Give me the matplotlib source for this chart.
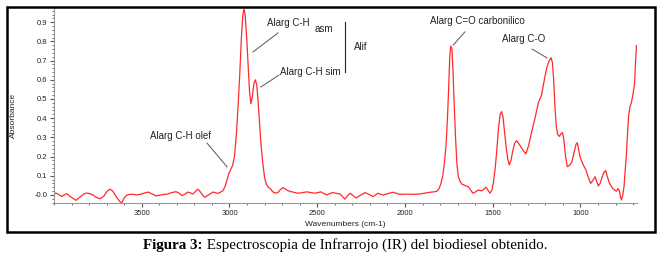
import matplotlib
matplotlib.use("Agg")
import matplotlib.pyplot as plt
from matplotlib.patches import Rectangle
from matplotlib.ticker import MultipleLocator, FixedLocator

# ---- data ----
wavenumber = [4000, 3989, 3970, 3954, 3940, 3926, 3905, 3875, 3850, 3830, 3812, 3795, 3778, 3760, 3738,
              3715, 3695, 3681, 3665, 3645, 3625, 3613, 3600, 3584, 3560, 3527, 3505, 3485, 3464, 3440,
              3419, 3395, 3370, 3356, 3330, 3305, 3285, 3271, 3255, 3236, 3208, 3190, 3180, 3165, 3150,
              3140, 3120, 3094, 3080, 3066, 3050, 3037, 3025, 3012, 3002, 2992, 2982, 2972, 2962, 2952,
              2942, 2932, 2924, 2917, 2910, 2902, 2894, 2886, 2878, 2870, 2862, 2853, 2845, 2838, 2830,
              2822, 2812, 2800, 2790, 2778, 2765, 2752, 2738, 2724, 2710, 2695, 2680, 2667, 2640, 2610,
              2585, 2558, 2535, 2513, 2495, 2479, 2460, 2445, 2428, 2410, 2390, 2370, 2355, 2342, 2328,
              2313, 2296, 2279, 2255, 2228, 2205, 2182, 2168, 2154, 2140, 2125, 2100, 2068, 2048, 2028,
              2000, 1971, 1945, 1915, 1885, 1858, 1835, 1818, 1805, 1795, 1785, 1775, 1766, 1758, 1751,
              1745, 1740, 1733, 1727, 1720, 1712, 1704, 1696, 1686, 1677, 1660, 1640, 1625, 1614, 1600,
              1582, 1570, 1563, 1550, 1538, 1527, 1516, 1505, 1497, 1487, 1478, 1468, 1458, 1450, 1442,
              1433, 1425, 1415, 1406, 1396, 1387, 1375, 1364, 1350, 1335, 1322, 1311, 1295, 1278, 1262,
              1250, 1240, 1231, 1222, 1212, 1202, 1190, 1178, 1168, 1160, 1153, 1145, 1138, 1130, 1120,
              1110, 1103, 1095, 1085, 1075, 1062, 1050, 1037, 1025, 1018, 1010, 1003, 993, 984, 969,
              955, 942, 930, 917, 908, 898, 888, 879, 868, 857, 848, 838, 825, 813, 800,
              795, 786, 778, 772, 767, 760, 752, 746, 739, 732, 726, 718, 710, 700, 692,
              686, 681]
absorbance = [0.005, 0.01, 0.0, -0.008, 0.002, 0.006, -0.01, -0.028, -0.01, 0.005, 0.01, 0.006, 0.0, -0.012, -0.02,
              -0.005, 0.022, 0.03, 0.02, -0.01, -0.035, -0.04, -0.015, 0.0, 0.004, 0.0, 0.004, 0.01, 0.015, 0.005,
              -0.005, 0.0, 0.003, 0.004, 0.012, 0.017, 0.008, -0.004, 0.004, 0.015, 0.005, 0.022, 0.03, 0.015, -0.005,
              -0.012, 0.0, 0.015, 0.012, 0.008, 0.015, 0.022, 0.045, 0.085, 0.115, 0.135, 0.155, 0.2, 0.3, 0.45,
              0.62, 0.82, 0.94, 0.968, 0.93, 0.82, 0.68, 0.54, 0.475, 0.51, 0.575, 0.6, 0.575, 0.5, 0.39,
              0.28, 0.18, 0.09, 0.055, 0.04, 0.03, 0.015, 0.01, 0.012, 0.028, 0.038, 0.03, 0.022, 0.015, 0.009,
              0.012, 0.016, 0.012, 0.009, 0.013, 0.016, 0.006, 0.0, 0.008, 0.012, 0.008, 0.005, -0.01, -0.022, -0.005,
              0.009, -0.003, -0.016, -0.002, 0.012, 0.003, -0.009, 0.0, 0.009, 0.004, 0.0, 0.006, 0.014, 0.008, 0.003,
              0.004, 0.004, 0.003, 0.005, 0.01, 0.014, 0.016, 0.02, 0.035, 0.06, 0.1, 0.17, 0.26, 0.4, 0.56,
              0.72, 0.775, 0.765, 0.66, 0.48, 0.3, 0.16, 0.095, 0.07, 0.057, 0.05, 0.043, 0.025, 0.009, 0.015,
              0.026, 0.022, 0.022, 0.03, 0.04, 0.025, 0.009, 0.025, 0.06, 0.13, 0.22, 0.34, 0.42, 0.434, 0.41,
              0.33, 0.26, 0.19, 0.156, 0.18, 0.225, 0.27, 0.283, 0.265, 0.243, 0.225, 0.214, 0.26, 0.33, 0.39,
              0.44, 0.48, 0.5, 0.52, 0.57, 0.62, 0.67, 0.7, 0.715, 0.69, 0.6, 0.45, 0.36, 0.315, 0.305,
              0.32, 0.325, 0.29, 0.2, 0.147, 0.155, 0.17, 0.22, 0.265, 0.272, 0.235, 0.2, 0.175, 0.156, 0.13,
              0.09, 0.06, 0.075, 0.095, 0.07, 0.047, 0.06, 0.087, 0.115, 0.127, 0.1, 0.069, 0.045, 0.03, 0.022,
              0.02, 0.033, 0.02, -0.01, -0.026, -0.005, 0.043, 0.12, 0.2, 0.32, 0.41, 0.46, 0.48, 0.53, 0.58,
              0.70, 0.778]

x_ticks = [3500, 3000, 2500, 2000, 1500, 1000]
x_tick_labels = ["3500", "3000", "2500", "2000", "1500", "1000"]
y_ticks = [0.0, 0.1, 0.2, 0.3, 0.4, 0.5, 0.6, 0.7, 0.8, 0.9]
y_tick_labels = ["-0.0", "0.1", "0.2", "0.3", "0.4", "0.5", "0.6", "0.7", "0.8", "0.9"]

W, H = 663, 257
fig = plt.figure(figsize=(W / 100, H / 100), dpi=100)
plt.rcParams['font.family'] = ['Liberation Sans', 'DejaVu Sans']

# outer frame
fig.add_artist(Rectangle((7 / W, 1 - 232 / H), (655 - 7) / W, (232 - 7) / H,
                         transform=fig.transFigure, fill=False, ec='black', lw=1.8))

ax = fig.add_axes([54 / W, 1 - 203 / H, (637 - 54) / W, (203 - 8) / H])
ax.plot(wavenumber, absorbance, color='#ff2a2a', lw=0.9)
ax.set_xlim(4000, 678)
ax.set_ylim(-0.042, 0.974)

for s in ['top', 'right']:
    ax.spines[s].set_visible(False)
for s in ['left', 'bottom']:
    ax.spines[s].set_color('#9a9a9a')
    ax.spines[s].set_linewidth(0.8)

ax.xaxis.set_major_locator(FixedLocator(x_ticks))
ax.set_xticklabels(x_tick_labels)
ax.xaxis.set_minor_locator(MultipleLocator(100))
ax.yaxis.set_major_locator(FixedLocator(y_ticks))
ax.set_yticklabels(y_tick_labels)
ax.yaxis.set_minor_locator(MultipleLocator(0.02))
ax.tick_params(axis='both', which='major', length=3, width=0.8, color='#555555',
               labelsize=5.5, labelcolor='#222222', pad=2)
ax.tick_params(axis='both', which='minor', length=1.5, width=0.6, color='#555555')

ax.set_xlabel("Wavenumbers (cm-1)", fontsize=6, color='#222222', labelpad=3)
ax.set_ylabel("Absorbance", fontsize=6, color='#222222')
ax.yaxis.set_label_coords(-0.063, 0.45)

# annotations
fs = 7
tc = '#222222'
lc = '#555555'
ax.text(2786, 0.896, "Alarg C-H", fontsize=fs, color=tc, va='center', ha='left')
ax.text(2513, 0.862, "asm", fontsize=fs, color=tc, va='center', ha='left')
ax.plot([2866, 2724], [0.745, 0.844], color=lc, lw=0.7)
ax.text(2712, 0.64, "Alarg C-H sim", fontsize=fs, color=tc, va='center', ha='left')
ax.plot([2821, 2718], [0.5625, 0.625], color=lc, lw=0.7)
ax.plot([2342, 2342], [0.90, 0.64], color='#222222', lw=0.8)
ax.text(2291, 0.77, "Alif", fontsize=fs, color=tc, va='center', ha='left')
ax.text(1858, 0.906, "Alarg C=O carbonilico", fontsize=fs, color=tc, va='center', ha='left')
ax.plot([1726, 1658], [0.78, 0.85], color=lc, lw=0.7)
ax.text(1447, 0.8125, "Alarg C-O", fontsize=fs, color=tc, va='center', ha='left')
ax.plot([1276, 1191], [0.76, 0.714], color=lc, lw=0.7)
ax.text(3453, 0.307, "Alarg C-H olef", fontsize=fs, color=tc, va='center', ha='left')
ax.plot([3128, 3014], [0.27, 0.146], color=lc, lw=0.7)

# caption with bold prefix
fig.canvas.draw()
r = fig.canvas.get_renderer()
cap_y = 1 - 245 / H
t1 = fig.text(0, cap_y, "Figura 3:", fontsize=10.8, fontweight='bold',
              family=['Liberation Serif', 'DejaVu Serif'], va='center', ha='left')
t2 = fig.text(0, cap_y, " Espectroscopia de Infrarrojo (IR) del biodiesel obtenido.", fontsize=10.8,
              family=['Liberation Serif', 'DejaVu Serif'], va='center', ha='left')
w1 = t1.get_window_extent(r).width
w2 = t2.get_window_extent(r).width
start = 345 - (w1 + w2) / 2
t1.set_x(start / W)
t2.set_x((start + w1) / W)

fig.savefig("out.png", dpi=100)
